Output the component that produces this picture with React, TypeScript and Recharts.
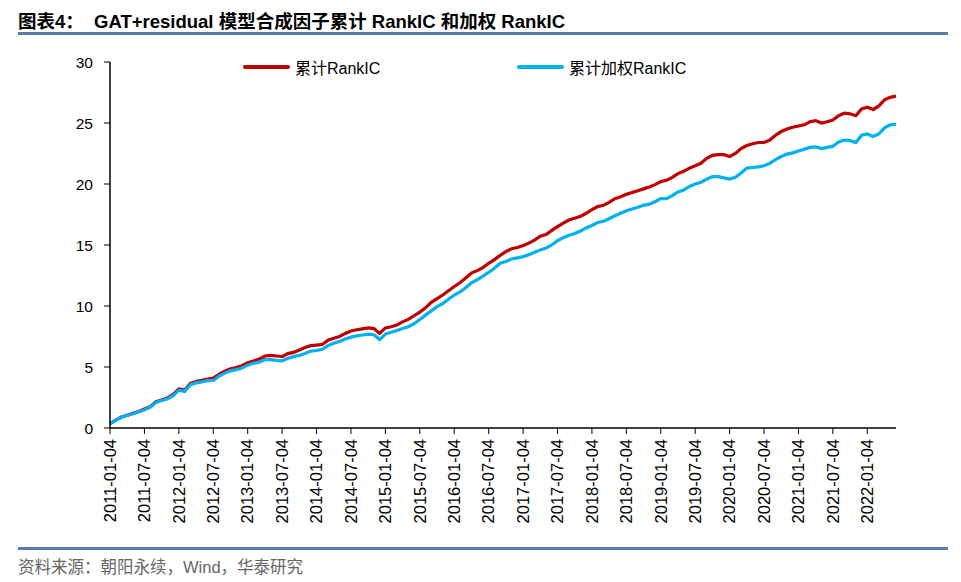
import { LineChart, Line, XAxis, YAxis } from "recharts";

const START_YEAR = 2011;

// monthly observation dates, 2011-01 .. 2022-06
const DATES: string[] = [];
for (let i = 0; i < 138; i++) {
  const y = START_YEAR + Math.floor(i / 12);
  const m = (i % 12) + 1;
  DATES.push(`${y}-${m < 10 ? "0" + m : m}-04`);
}

const TICK_LABELS = [
  "2011-01-04", "2011-07-04", "2012-01-04", "2012-07-04", "2013-01-04", "2013-07-04",
  "2014-01-04", "2014-07-04", "2015-01-04", "2015-07-04", "2016-01-04", "2016-07-04",
  "2017-01-04", "2017-07-04", "2018-01-04", "2018-07-04", "2019-01-04", "2019-07-04",
  "2020-01-04", "2020-07-04", "2021-01-04", "2021-07-04", "2022-01-04",
];

const Y_TICKS = [0, 5, 10, 15, 20, 25, 30];

// 累计RankIC
const CUM_RANKIC = [
  0.35, 0.65, 0.9, 1.05, 1.2, 1.35, 1.55, 1.75, 2.15, 2.3, 2.45, 2.75,
  3.2, 3.1, 3.65, 3.8, 3.9, 4.02, 4.1, 4.4, 4.65, 4.85, 4.95, 5.1,
  5.35, 5.5, 5.65, 5.9, 5.95, 5.9, 5.85, 6.1, 6.2, 6.4, 6.6, 6.75,
  6.8, 6.85, 7.2, 7.35, 7.5, 7.75, 7.95, 8.05, 8.12, 8.2, 8.15, 7.75,
  8.2, 8.3, 8.45, 8.7, 8.9, 9.2, 9.5, 9.85, 10.3, 10.6, 10.9, 11.25,
  11.6, 11.9, 12.3, 12.7, 12.9, 13.15, 13.5, 13.8, 14.15, 14.45, 14.7, 14.8,
  14.95, 15.15, 15.4, 15.72, 15.85, 16.2, 16.5, 16.8, 17.05, 17.2, 17.35, 17.6,
  17.9, 18.15, 18.25, 18.5, 18.8, 18.95, 19.15, 19.3, 19.45, 19.6, 19.75, 19.95,
  20.2, 20.3, 20.55, 20.85, 21.05, 21.3, 21.5, 21.7, 22.1, 22.35, 22.4, 22.4,
  22.25, 22.5, 22.9, 23.15, 23.3, 23.4, 23.4, 23.6, 24.0, 24.3, 24.5, 24.65,
  24.75, 24.85, 25.1, 25.2, 25.0, 25.1, 25.25, 25.6, 25.8, 25.75, 25.6, 26.15,
  26.3, 26.1, 26.4, 26.9, 27.1, 27.2,
];

// 累计加权RankIC
const CUM_WEIGHTED_RANKIC = [
  0.35, 0.62, 0.88, 1.02, 1.17, 1.32, 1.5, 1.7, 2.1, 2.25, 2.38, 2.65,
  3.1, 3.0, 3.55, 3.7, 3.78, 3.88, 3.9, 4.25, 4.5, 4.68, 4.78, 4.92,
  5.15, 5.3, 5.4, 5.6, 5.6, 5.55, 5.5, 5.72, 5.85, 5.95, 6.1, 6.3,
  6.35, 6.45, 6.75, 6.95, 7.1, 7.3, 7.45, 7.55, 7.62, 7.7, 7.65, 7.25,
  7.7, 7.85, 8.0, 8.15, 8.3, 8.55, 8.9, 9.25, 9.6, 9.95, 10.2, 10.55,
  10.9, 11.15, 11.5, 11.9, 12.15, 12.45, 12.75, 13.1, 13.5, 13.65, 13.85, 13.95,
  14.05, 14.2, 14.4, 14.6, 14.75, 15.0, 15.35, 15.6, 15.8, 15.95, 16.15, 16.4,
  16.6, 16.85, 16.95, 17.15, 17.4, 17.6, 17.8, 17.95, 18.1, 18.25, 18.35, 18.55,
  18.8, 18.8, 19.05, 19.35, 19.5, 19.8, 20.0, 20.15, 20.4, 20.6, 20.6, 20.5,
  20.4, 20.55, 20.9, 21.3, 21.35, 21.4, 21.5, 21.7, 22.0, 22.25, 22.45, 22.55,
  22.7, 22.85, 23.0, 23.05, 22.9, 23.0, 23.1, 23.45, 23.6, 23.55, 23.4, 24.0,
  24.1, 23.9, 24.1, 24.6, 24.85, 24.9,
];

const SERIES = [
  { key: "cum", name: "累计RankIC", color: "#C00000", legendX: 243 },
  { key: "wcum", name: "累计加权RankIC", color: "#00B0F0", legendX: 517 },
];

const data = DATES.map((date, i) => ({
  date,
  cum: CUM_RANKIC[i],
  wcum: CUM_WEIGHTED_RANKIC[i],
}));

const FONT = '"Liberation Sans", Arial, "Noto Sans CJK SC", sans-serif';

const DateTick = (props: any) => {
  const { x, y, payload } = props;
  return (
    <text
      x={x}
      y={y}
      transform={`rotate(-90, ${x}, ${y})`}
      textAnchor="end"
      dy="0.35em"
      fontSize={16.5}
      fill="#000"
      fontFamily={FONT}
    >
      {payload.value}
    </text>
  );
};

const App = () => {
  return (
    <div
      style={{
        position: "absolute",
        left: 0,
        top: 0,
        width: 961,
        height: 582,
        background: "#fff",
        fontFamily: FONT,
        overflow: "hidden",
      }}
    >
      <div
        style={{
          position: "absolute",
          left: 18,
          top: 7,
          fontSize: 18.5,
          fontWeight: "bold",
          whiteSpace: "nowrap",
          color: "#000",
        }}
      >
        图表4：&nbsp;&nbsp;GAT+residual 模型合成因子累计 RankIC 和加权 RankIC
      </div>
      <div
        style={{
          position: "absolute",
          left: 18,
          top: 32,
          width: 930,
          height: 3,
          background: "#5A7BA8",
        }}
      />

      <LineChart
        width={961}
        height={582}
        data={data}
        margin={{ top: 62, right: 65, bottom: 54, left: 0 }}
        style={{ position: "absolute", left: 0, top: 0 }}
      >
        <XAxis
          dataKey="date"
          ticks={TICK_LABELS}
          interval={0}
          tick={<DateTick />}
          tickLine={{ stroke: "#000" }}
          tickSize={6}
          tickMargin={5}
          axisLine={{ stroke: "#000", strokeWidth: 1.5 }}
          height={100}
        />
        <YAxis
          domain={[0, 30]}
          ticks={Y_TICKS}
          width={110}
          tickLine={{ stroke: "#000" }}
          tickSize={6}
          tickMargin={11}
          axisLine={{ stroke: "#000", strokeWidth: 1.5 }}
          tick={{ fontSize: 15.5, fill: "#000", fontFamily: FONT }}
        />
        {SERIES.map((s) => (
          <Line
            key={s.key}
            dataKey={s.key}
            name={s.name}
            stroke={s.color}
            strokeWidth={3.2}
            dot={false}
            type="linear"
            isAnimationActive={false}
          />
        ))}
      </LineChart>

      {/* legend */}
      {SERIES.map((s) => (
        <div
          key={s.key}
          style={{
            position: "absolute",
            left: s.legendX,
            top: 57,
            height: 20,
            display: "flex",
            alignItems: "center",
            fontSize: 16,
            color: "#000",
            whiteSpace: "nowrap",
          }}
        >
          <span
            style={{
              display: "inline-block",
              width: 47,
              height: 4,
              borderRadius: 2,
              background: s.color,
              marginRight: 5,
            }}
          />
          {s.name}
        </div>
      ))}

      <div
        style={{
          position: "absolute",
          left: 18,
          top: 547,
          width: 930,
          height: 3,
          background: "#5A7BA8",
        }}
      />
      <div
        style={{
          position: "absolute",
          left: 18,
          top: 554,
          fontSize: 16.5,
          color: "#666",
          whiteSpace: "nowrap",
        }}
      >
        资料来源：朝阳永续，Wind，华泰研究
      </div>
    </div>
  );
};

export default App;
